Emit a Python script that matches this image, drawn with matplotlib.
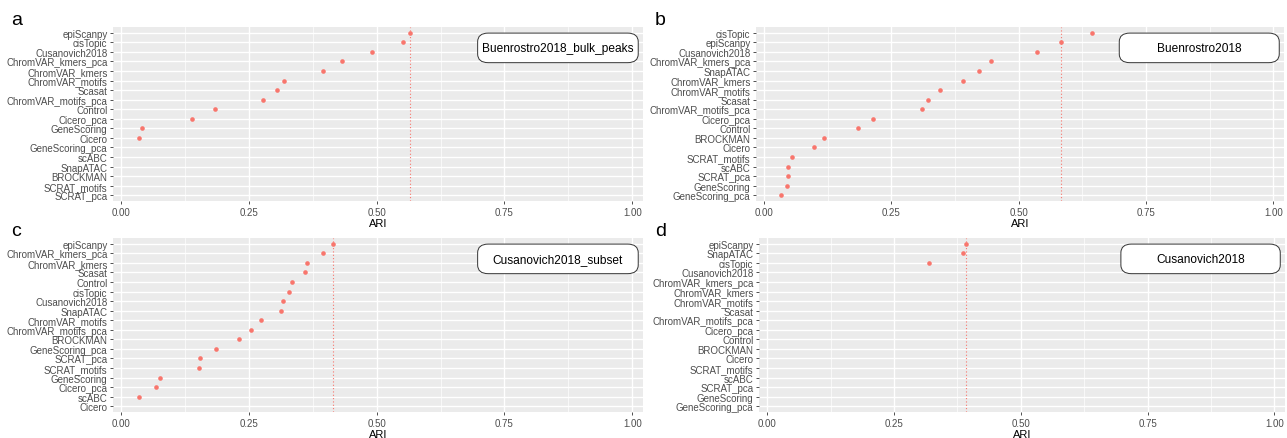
import numpy as np
import matplotlib
matplotlib.use("Agg")
import matplotlib.pyplot as plt
from matplotlib.patches import FancyBboxPatch

plt.rcParams['font.family'] = ['Liberation Sans', 'DejaVu Sans']

# ---- data (ARI per method, top row first) ----
methods_a = ['epiScanpy', 'cisTopic', 'Cusanovich2018', 'ChromVAR_kmers_pca', 'ChromVAR_kmers',
             'ChromVAR_motifs', 'Scasat', 'ChromVAR_motifs_pca', 'Control', 'Cicero_pca',
             'GeneScoring', 'Cicero', 'GeneScoring_pca', 'scABC', 'SnapATAC', 'BROCKMAN',
             'SCRAT_motifs', 'SCRAT_pca']
ari_a = [0.566, 0.551, 0.491, 0.432, 0.394, 0.319, 0.305, 0.278, 0.183, 0.139,
         0.040, 0.034, np.nan, np.nan, np.nan, np.nan, np.nan, np.nan]

methods_b = ['cisTopic', 'epiScanpy', 'Cusanovich2018', 'ChromVAR_kmers_pca', 'SnapATAC',
             'ChromVAR_kmers', 'ChromVAR_motifs', 'Scasat', 'ChromVAR_motifs_pca', 'Cicero_pca',
             'Control', 'BROCKMAN', 'Cicero', 'SCRAT_motifs', 'scABC', 'SCRAT_pca',
             'GeneScoring', 'GeneScoring_pca']
ari_b = [0.643, 0.584, 0.535, 0.445, 0.422, 0.391, 0.346, 0.322, 0.310, 0.214,
         0.184, 0.117, 0.098, 0.054, 0.047, 0.046, 0.045, 0.033]

methods_c = ['epiScanpy', 'ChromVAR_kmers_pca', 'ChromVAR_kmers', 'Scasat', 'Control',
             'cisTopic', 'Cusanovich2018', 'SnapATAC', 'ChromVAR_motifs', 'ChromVAR_motifs_pca',
             'BROCKMAN', 'GeneScoring_pca', 'SCRAT_pca', 'SCRAT_motifs', 'GeneScoring',
             'Cicero_pca', 'scABC', 'Cicero']
ari_c = [0.415, 0.394, 0.363, 0.360, 0.335, 0.328, 0.316, 0.313, 0.274, 0.254,
         0.231, 0.185, 0.155, 0.152, 0.076, 0.069, 0.035, np.nan]

methods_d = ['epiScanpy', 'SnapATAC', 'cisTopic', 'Cusanovich2018', 'ChromVAR_kmers_pca',
             'ChromVAR_kmers', 'ChromVAR_motifs', 'Scasat', 'ChromVAR_motifs_pca', 'Cicero_pca',
             'Control', 'BROCKMAN', 'Cicero', 'SCRAT_motifs', 'scABC', 'SCRAT_pca',
             'GeneScoring', 'GeneScoring_pca']
ari_d = [0.392, 0.386, 0.320] + [np.nan] * 15

datasets = ['Buenrostro2018_bulk_peaks', 'Buenrostro2018', 'Cusanovich2018_subset', 'Cusanovich2018']
letters = ['a', 'b', 'c', 'd']

W, H = 1287, 439
fig = plt.figure(figsize=(W / 100, H / 100), dpi=100)

# panel rectangles in pixels: left, top, right, bottom
boxes = [(113, 28, 643, 202), (756, 28, 1284, 202),
         (113, 239, 643, 413), (759, 239, 1285, 413)]
panels = [(methods_a, ari_a), (methods_b, ari_b), (methods_c, ari_c), (methods_d, ari_d)]

point_col = '#F8766D'

for i, ((names, vals), (l, t, r, b)) in enumerate(zip(panels, boxes)):
    ax = fig.add_axes([l / W, 1 - b / H, (r - l) / W, (b - t) / H])
    ax.set_facecolor('#EBEBEB')
    y = np.arange(len(names))
    vals = np.array(vals, dtype=float)

    ax.set_xticks([0, 0.25, 0.5, 0.75, 1.0])
    ax.set_xticks([0.125, 0.375, 0.625, 0.875], minor=True)
    ax.set_xticklabels(['0.00', '0.25', '0.50', '0.75', '1.00'])
    ax.set_yticks(y)
    ax.set_yticklabels(names)
    ax.grid(True, which='major', color='white', linewidth=1.0)
    ax.grid(True, which='minor', axis='x', color='white', linewidth=0.5)
    ax.set_axisbelow(True)
    for s in ax.spines.values():
        s.set_visible(False)
    ax.tick_params(axis='both', which='major', length=2.5, width=0.6, color='#333333',
                   labelsize=7, labelcolor='#4D4D4D', pad=1.5)
    ax.tick_params(axis='x', which='minor', length=0)

    ref = vals[names.index('epiScanpy')]
    ax.axvline(ref, color=point_col, linestyle=(0, (1, 2)), linewidth=0.8, zorder=2)
    ax.scatter(vals, y, s=11, color=point_col, zorder=3, linewidths=0)

    ax.set_xlim(-0.016, 1.021)
    ax.set_ylim(len(names) - 0.4, -0.6)
    ax.set_xlabel('ARI', fontsize=8, labelpad=1)

    box = FancyBboxPatch((0.688, 0.795), 0.303, 0.17, transform=ax.transAxes,
                         boxstyle='round,pad=0,rounding_size=0.02', facecolor='white',
                         edgecolor='#333333', linewidth=0.7, zorder=4, clip_on=False,
                         mutation_aspect=2.5)
    ax.add_patch(box)
    ax.text(0.8395, 0.88, datasets[i], transform=ax.transAxes, ha='center', va='center',
            fontsize=8.6, color='black', zorder=5)

    lx = 11 if i % 2 == 0 else 655
    fig.text(lx / W, 1 - (t - 3) / H, letters[i], fontsize=14, ha='left', va='baseline')

fig.savefig('out.png', dpi=100)
